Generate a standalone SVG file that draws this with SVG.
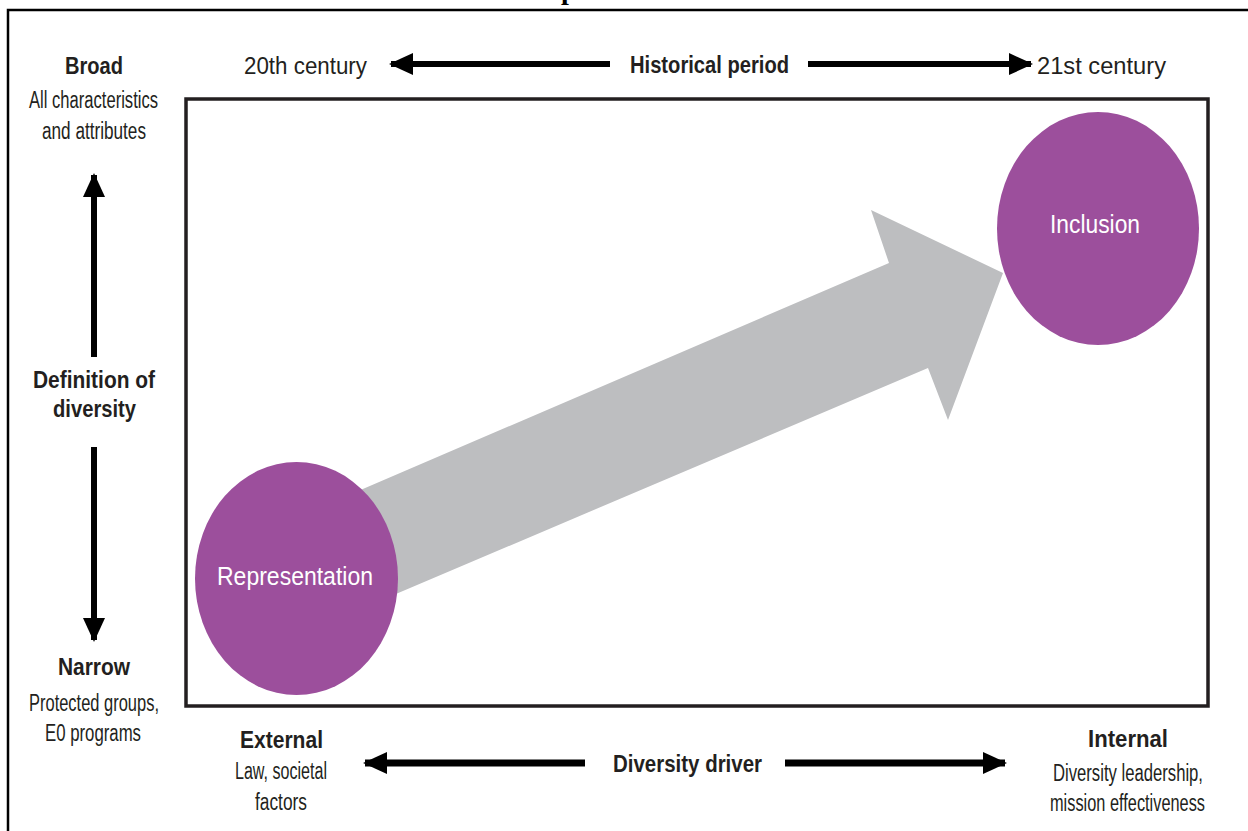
<svg xmlns="http://www.w3.org/2000/svg" width="1248" height="831" viewBox="0 0 1248 831">
  <style>
    text { font-family: "Liberation Sans", Arial, sans-serif; fill: #231f20; text-anchor: middle; }
    .b { font-weight: bold; font-size: 24px; }
    .r { font-size: 23px; }
    .node { fill: #9c4f9c; }
    .nt { fill: #ffffff; font-size: 25px; }
    .ax { stroke: #000; stroke-width: 6; fill: none; }
    .ax2 { stroke: #000; stroke-width: 7; fill: none; }
  </style>
  <defs>
    <marker id="ah" markerUnits="userSpaceOnUse" markerWidth="24" markerHeight="22" viewBox="0 0 24 22" refX="22" refY="11" orient="auto">
      <path d="M0,0 L24,11 L0,22 Z" fill="#000"/>
    </marker>
  </defs>

  <rect x="0" y="0" width="1248" height="831" fill="#fff"/>
  <text x="561" y="-1" style="font-family:'Liberation Serif',serif;font-weight:bold;font-size:28px;text-anchor:start;fill:#000">p</text>
  <path d="M1250,10 H8 V833" fill="none" stroke="#000" stroke-width="2.5"/>
  <rect x="186" y="99" width="1022" height="607" fill="none" stroke="#231f20" stroke-width="3.5"/>

  <g id="connectors">
    <polygon points="300,516 889,263 871,210 1003,273 948,420 928,368 330,622" fill="#bdbec0"/>
  </g>

  <g id="axes">
    <line class="ax" x1="610" y1="64" x2="391" y2="64" marker-end="url(#ah)"/>
    <line class="ax" x1="808" y1="64" x2="1031" y2="64" marker-end="url(#ah)"/>
    <line class="ax2" x1="585" y1="763" x2="365" y2="763" marker-end="url(#ah)"/>
    <line class="ax2" x1="785" y1="763" x2="1005" y2="763" marker-end="url(#ah)"/>
    <line class="ax" x1="94" y1="357" x2="94" y2="175" marker-end="url(#ah)"/>
    <line class="ax" x1="94" y1="447" x2="94" y2="640" marker-end="url(#ah)"/>
  </g>

  <g id="node-representation">
    <ellipse class="node" cx="296.5" cy="578.5" rx="101.5" ry="116.5"/>
    <text class="nt" x="295" y="585" textLength="156" lengthAdjust="spacingAndGlyphs">Representation</text>
  </g>
  <g id="node-inclusion">
    <ellipse class="node" cx="1098" cy="228.5" rx="101" ry="116.5"/>
    <text class="nt" x="1095" y="233" textLength="90" lengthAdjust="spacingAndGlyphs">Inclusion</text>
  </g>

  <g id="labels-top">
    <text class="r" x="305.5" y="74" textLength="123" lengthAdjust="spacingAndGlyphs">20th century</text>
    <text class="b" x="709.5" y="73" textLength="159" lengthAdjust="spacingAndGlyphs">Historical period</text>
    <text class="r" x="1101.5" y="74" textLength="129" lengthAdjust="spacingAndGlyphs">21st century</text>
  </g>

  <g id="labels-left">
    <text class="b" x="94" y="74" textLength="58" lengthAdjust="spacingAndGlyphs">Broad</text>
    <text class="r" x="93.5" y="108" textLength="129" lengthAdjust="spacingAndGlyphs">All characteristics</text>
    <text class="r" x="94" y="139" textLength="104" lengthAdjust="spacingAndGlyphs">and attributes</text>
    <text class="b" x="94" y="388" textLength="122" lengthAdjust="spacingAndGlyphs">Definition of</text>
    <text class="b" x="94.5" y="417" textLength="83" lengthAdjust="spacingAndGlyphs">diversity</text>
    <text class="b" x="94" y="675" textLength="72" lengthAdjust="spacingAndGlyphs">Narrow</text>
    <text class="r" x="94" y="711" textLength="130" lengthAdjust="spacingAndGlyphs">Protected groups,</text>
    <text class="r" x="93" y="741" textLength="96" lengthAdjust="spacingAndGlyphs">E0 programs</text>
  </g>

  <g id="labels-bottom">
    <text class="b" x="281.5" y="748" textLength="83" lengthAdjust="spacingAndGlyphs">External</text>
    <text class="r" x="281" y="779" textLength="92" lengthAdjust="spacingAndGlyphs">Law, societal</text>
    <text class="r" x="281" y="810" textLength="52" lengthAdjust="spacingAndGlyphs">factors</text>
    <text class="b" x="687.5" y="772" textLength="149" lengthAdjust="spacingAndGlyphs">Diversity driver</text>
    <text class="b" x="1128" y="747" textLength="80" lengthAdjust="spacingAndGlyphs">Internal</text>
    <text class="r" x="1128" y="781" textLength="150" lengthAdjust="spacingAndGlyphs">Diversity leadership,</text>
    <text class="r" x="1127.5" y="811" textLength="155" lengthAdjust="spacingAndGlyphs">mission effectiveness</text>
  </g>
</svg>
